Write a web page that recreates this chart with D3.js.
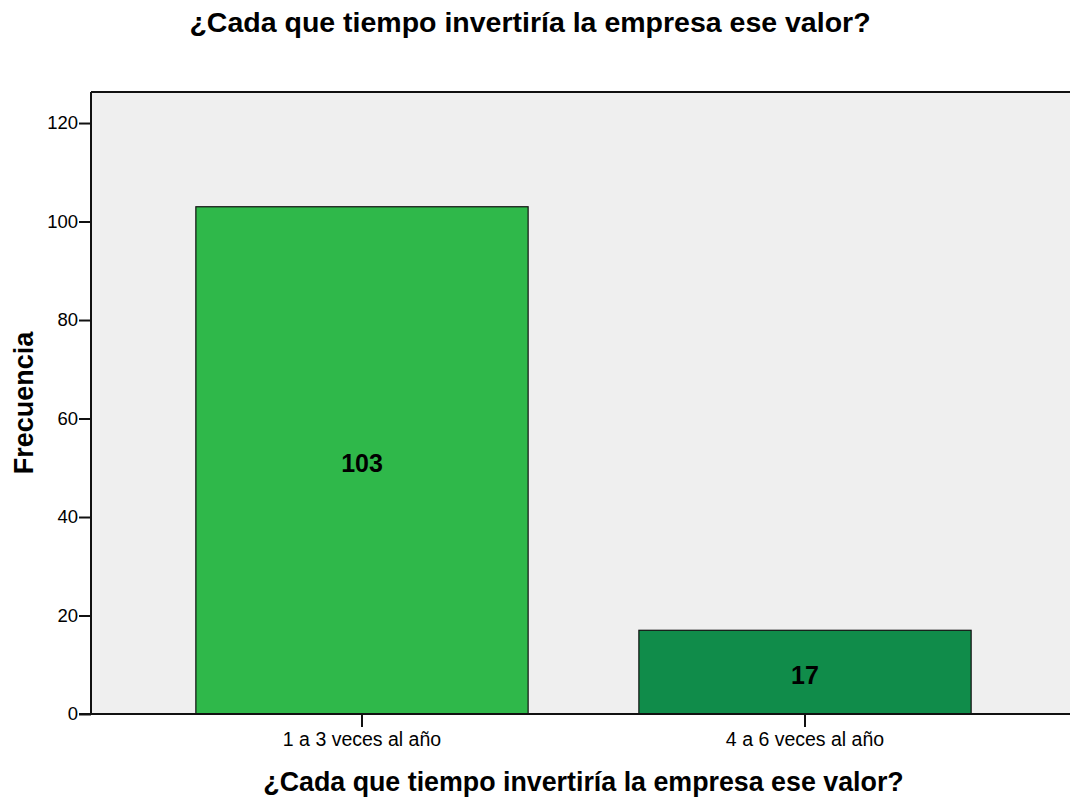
<!DOCTYPE html>
<html>
<head>
<meta charset="utf-8">
<script src="https://cdn.jsdelivr.net/npm/d3@7/dist/d3.min.js"></script>
<style>
  html, body { margin: 0; padding: 0; background: #fff; }
  svg { display: block; font-family: "Liberation Sans", Arial, sans-serif; }
</style>
</head>
<body>
<svg id="chart" width="1070" height="801"></svg>
<script>
// Frecuencia por categoría
const categories = ["1 a 3 veces al año", "4 a 6 veces al año"];
const counts = [103, 17];
const barColors = ["#2fb84a", "#108c4a"];
const yTicks = [0, 20, 40, 60, 80, 100, 120];
const titleText = "¿Cada que tiempo invertiría la empresa ese valor?";
const xTitle = "¿Cada que tiempo invertiría la empresa ese valor?";
const yTitle = "Frecuencia";

const svg = d3.select("#chart");
const plot = { left: 91, top: 92, right: 1076, bottom: 714 };

const x = d3.scaleBand()
  .domain(categories)
  .range([plot.left, plot.right])
  .paddingInner(0.25)
  .paddingOuter(0.2367);

const y = d3.scaleLinear()
  .domain([0, 126.3])
  .range([plot.bottom, plot.top]);

// plot background
svg.append("rect")
  .attr("x", plot.left).attr("y", plot.top)
  .attr("width", plot.right - plot.left).attr("height", plot.bottom - plot.top)
  .attr("fill", "#efefef");

// bars
svg.selectAll("rect.bar")
  .data(categories)
  .join("rect")
  .attr("class", "bar")
  .attr("x", d => x(d))
  .attr("y", (d, i) => y(counts[i]))
  .attr("width", x.bandwidth())
  .attr("height", (d, i) => y(0) - y(counts[i]))
  .attr("fill", (d, i) => barColors[i])
  .attr("stroke", "#111")
  .attr("stroke-width", 1.2);

// value labels at bar centres
svg.selectAll("text.val")
  .data(categories)
  .join("text")
  .attr("class", "val")
  .attr("x", d => x(d) + x.bandwidth() / 2)
  .attr("y", (d, i) => (y(counts[i]) + y(0)) / 2 + 12)
  .attr("text-anchor", "middle")
  .attr("font-size", 25)
  .attr("font-weight", "bold")
  .attr("fill", "#000")
  .text((d, i) => counts[i]);

// frame: top line
svg.append("line")
  .attr("x1", plot.left).attr("x2", plot.right)
  .attr("y1", plot.top).attr("y2", plot.top)
  .attr("stroke", "#111").attr("stroke-width", 2);

// y axis
const yAxis = d3.axisLeft(y).tickValues(yTicks).tickSize(12).tickPadding(1).tickFormat(d3.format("d"));
const yg = svg.append("g").attr("transform", `translate(${plot.left},0)`).call(yAxis);
yg.select(".domain").attr("d", `M0,${plot.top}V${plot.bottom}`).attr("stroke", "#111").attr("stroke-width", 2);
yg.selectAll(".tick line").attr("stroke", "#111").attr("stroke-width", 2);
yg.selectAll(".tick text").attr("font-size", 18.5).attr("fill", "#000").attr("font-family", "Liberation Sans, Arial, sans-serif");

// x axis
const xAxis = d3.axisBottom(x).tickSize(13).tickPadding(4);
const xg = svg.append("g").attr("transform", `translate(0,${plot.bottom})`).call(xAxis);
xg.select(".domain").attr("d", `M${plot.left - 12},0H${plot.right}`).attr("stroke", "#111").attr("stroke-width", 2);
xg.selectAll(".tick line").attr("stroke", "#111").attr("stroke-width", 2);
xg.selectAll(".tick text")
  .attr("font-size", 19.5).attr("fill", "#000").attr("font-family", "Liberation Sans, Arial, sans-serif")
  .attr("dy", null).attr("y", 32);

// titles
svg.append("text")
  .attr("x", 530).attr("y", 32)
  .attr("text-anchor", "middle")
  .attr("font-size", 28.5).attr("font-weight", "bold")
  .text(titleText);

svg.append("text")
  .attr("x", (plot.left + plot.right) / 2).attr("y", 791)
  .attr("text-anchor", "middle")
  .attr("font-size", 26.8).attr("font-weight", "bold")
  .text(xTitle);

svg.append("text")
  .attr("transform", `translate(33,${(plot.top + plot.bottom) / 2}) rotate(-90)`)
  .attr("text-anchor", "middle")
  .attr("font-size", 27).attr("font-weight", "bold")
  .text(yTitle);
</script>
</body>
</html>
